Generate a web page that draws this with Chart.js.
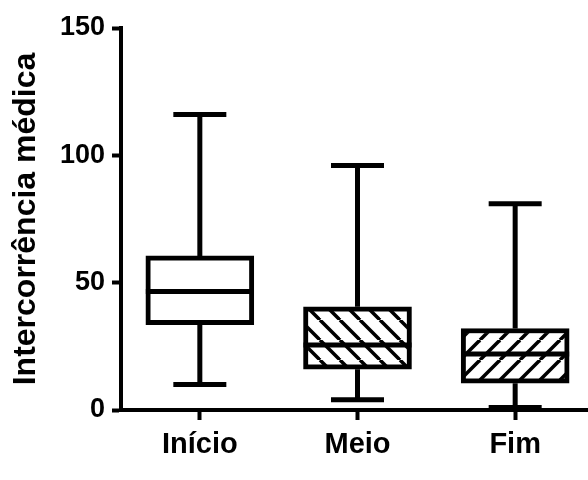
<!DOCTYPE html>
<html>
<head>
<meta charset="utf-8">
<script src="https://cdn.jsdelivr.net/npm/chart.js@4.4.1/dist/chart.umd.min.js"></script>
<style>
  body { margin: 0; background: #fff; }
  #clip { width: 588px; height: 480px; overflow: hidden; }
  #wrap { width: 594px; height: 480px; }
</style>
</head>
<body>
<div id="clip"><div id="wrap"><canvas id="myChart"></canvas></div></div>
<script>
// box plot values
const categories = ['Início', 'Meio', 'Fim'];
const maxVals = [116, 96, 81];
const q3Vals = [60.5, 40.5, 32];
const medians = [46.5, 25.5, 22];
const q1Vals = [33.5, 16, 10.5];
const minVals = [10, 4, 1];
const yTicks = [0, 50, 100, 150];

const font = 'Arial, "Liberation Sans", sans-serif';

// hatch fills: '\' for Meio, '/' for Fim
function hatch(dir) {
  const s = 20;
  const c = document.createElement('canvas');
  c.width = s; c.height = s;
  const g = c.getContext('2d');
  g.fillStyle = '#fff';
  g.fillRect(0, 0, s, s);
  g.strokeStyle = '#000';
  g.lineWidth = 3.5;
  for (let k = -1; k <= 1; k++) {
    g.beginPath();
    if (dir === 'back') { g.moveTo(k * s, 0); g.lineTo(k * s + s, s); }
    else { g.moveTo(k * s, s); g.lineTo(k * s + s, 0); }
    g.stroke();
  }
  return g.createPattern(c, 'repeat');
}

// whiskers, caps and medians, placed with the chart's own scales
const whiskers = {
  id: 'whiskers',
  afterDatasetsDraw(chart) {
    const ctx = chart.ctx;
    const y = chart.scales.y;
    const bars = chart.getDatasetMeta(0).data;
    ctx.save();
    ctx.strokeStyle = '#000';
    ctx.lineWidth = 5;
    ctx.lineCap = 'butt';
    bars.forEach((bar, i) => {
      const x = bar.x;
      const half = bar.width / 2;
      ctx.beginPath();
      ctx.moveTo(x, y.getPixelForValue(maxVals[i]));
      ctx.lineTo(x, y.getPixelForValue(q3Vals[i]));
      ctx.moveTo(x, y.getPixelForValue(q1Vals[i]));
      ctx.lineTo(x, y.getPixelForValue(minVals[i]));
      ctx.moveTo(x - 26.5, y.getPixelForValue(maxVals[i]));
      ctx.lineTo(x + 26.5, y.getPixelForValue(maxVals[i]));
      ctx.moveTo(x - 26.5, y.getPixelForValue(minVals[i]));
      ctx.lineTo(x + 26.5, y.getPixelForValue(minVals[i]));
      ctx.moveTo(x - half, y.getPixelForValue(medians[i]));
      ctx.lineTo(x + half, y.getPixelForValue(medians[i]));
      ctx.stroke();
    });
    ctx.restore();
  }
};

let ctx = document.querySelector('#myChart').getContext('2d');
let graphic = new Chart(ctx, {
  type: 'bar',
  data: {
    labels: categories,
    datasets: [{
      data: categories.map((c, i) => [q1Vals[i], q3Vals[i]]),
      backgroundColor: ['#fff', hatch('back'), hatch('fwd')],
      borderColor: '#000',
      borderWidth: 5,
      borderSkipped: false,
      barThickness: 108
    }]
  },
  options: {
    responsive: true,
    maintainAspectRatio: false,
    animation: false,
    layout: { padding: { top: 28, right: 0, bottom: 0, left: 0 } },
    plugins: { legend: { display: false }, tooltip: { enabled: false } },
    scales: {
      x: {
        offset: true,
        grid: { display: true, drawOnChartArea: false, offset: false, tickLength: 10, tickWidth: 4, color: '#000' },
        border: { display: true, width: 4, color: '#000' },
        ticks: { color: '#000', padding: 8, font: { family: font, size: 29, weight: 'bold' } },
        afterFit: s => { s.height = 70; }
      },
      y: {
        min: 0,
        max: 150,
        afterBuildTicks: s => { s.ticks = yTicks.map(v => ({ value: v })); },
        grid: { display: true, drawOnChartArea: false, tickLength: 9, tickWidth: 4, color: '#000' },
        border: { display: true, width: 4, color: '#000' },
        ticks: { color: '#000', padding: 7, font: { family: font, size: 27, weight: 'bold' } },
        title: {
          display: true,
          text: 'Intercorrência médica',
          color: '#000',
          padding: { top: 10, bottom: 0 },
          font: { family: font, size: 32, weight: 'bold', lineHeight: 1 }
        },
        afterFit: s => { s.width = 121; }
      }
    }
  },
  plugins: [whiskers]
});
</script>
</body>
</html>
